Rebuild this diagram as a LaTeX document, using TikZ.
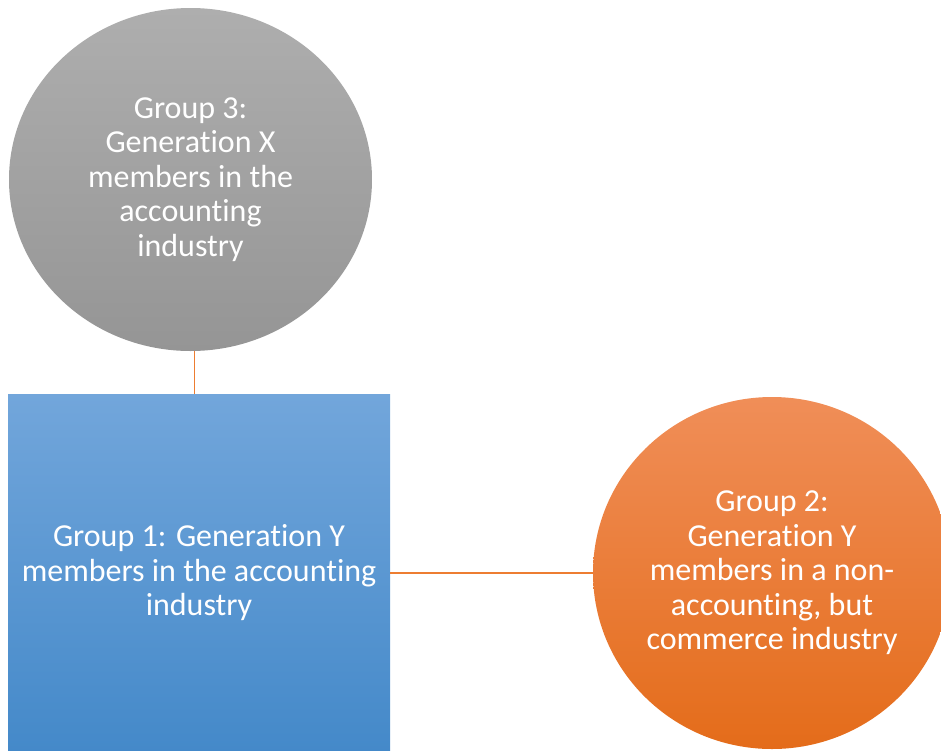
\documentclass[tikz,border=0pt]{standalone}
\usepackage{fontspec}
\setmainfont{Carlito}[Ligatures={NoCommon}]
\usetikzlibrary{shapes.geometric}
\definecolor{lineor}{HTML}{ED7D31}
\tikzset{
  lbl/.style={text=white, align=center, font=\fontsize{32}{34.5}\selectfont, inner sep=0pt},
  grayball/.style={ellipse, lbl, minimum width=363pt, minimum height=343pt, top color={rgb,255:red,174;green,174;blue,174}, bottom color={rgb,255:red,149;green,149;blue,149}},
  orangeball/.style={ellipse, lbl, minimum width=358pt, minimum height=352pt, top color={rgb,255:red,240;green,142;blue,88}, bottom color={rgb,255:red,228;green,108;blue,26}},
  bluebox/.style={rectangle, lbl, minimum width=382pt, minimum height=358pt, top color={rgb,255:red,114;green,166;blue,219}, bottom color={rgb,255:red,68;green,137;blue,201}},
  conn/.style={draw=lineor, line width=1.3pt}
}
\begin{document}
\begin{tikzpicture}[x=1pt, y=-1pt]
\useasboundingbox (0,0) rectangle (941,750);
\clip (0,0) rectangle (941,750);
\node[grayball] (g3) at (190.5,179.5) {Group 3:\\Generation X\\members in the\\accounting\\industry};
\node[bluebox] (g1) at (199,573) {Group 1: Generation Y\\members in the accounting\\industry};
\node[orangeball] (g2) at (772,573) {Group 2:\\Generation Y\\members in a non-\\accounting, but\\commerce industry};
\draw[conn] ([xshift=4pt]g3.south) -- ([xshift=4pt]g3.south |- g1.north);
\draw[conn] (g1.east) -- (g2.west);
\end{tikzpicture}
\end{document}
